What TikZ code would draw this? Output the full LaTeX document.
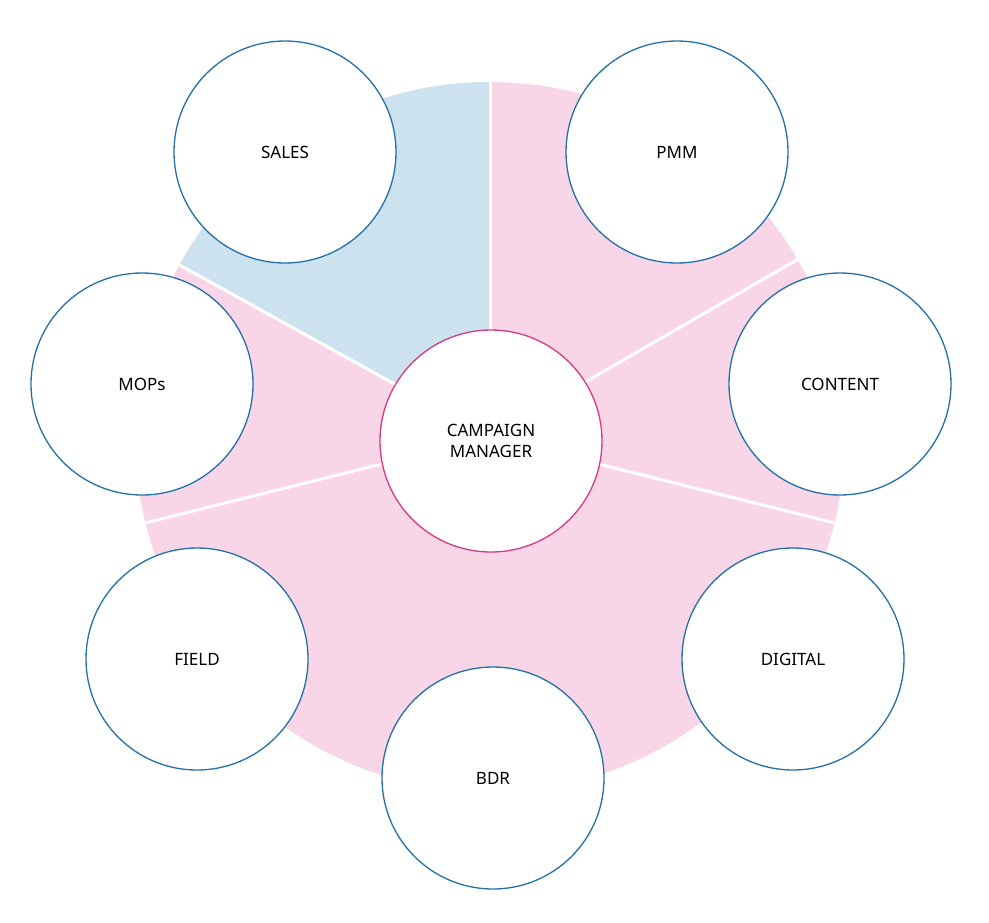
\documentclass[tikz,border=0pt]{standalone}
\usepackage{fontspec}
\setmainfont{Noto Sans}
\begin{document}
\begin{tikzpicture}[x=1pt,y=-1pt,
  sat/.style={circle,draw=cblue,line width=1.3pt,fill=white,minimum size=222pt,inner sep=0pt,font=\fontsize{17}{21}\selectfont},
  divl/.style={white,line width=3pt}]
\definecolor{cpink}{HTML}{F8D5E7}
\definecolor{cblu}{HTML}{CCE2EE}
\definecolor{cblue}{HTML}{2470A8}
\definecolor{cmag}{HTML}{D63A86}
\useasboundingbox (0,0) rectangle (989,922);
\coordinate (c) at (490,437);
\fill[cpink] (c) circle (355);
\fill[cblu] (c) -- ++(-90:355) arc[start angle=-90,end angle=-151,radius=355] -- cycle;
\foreach \a in {-90,-30,14,-194,-151} \draw[divl] (c) -- ++(\a:355);
\node[sat] (sales) at (285,152) {SALES};
\node[sat] (pmm) at (677,152) {PMM};
\node[sat] (mops) at (142,384) {MOPs};
\node[sat] (content) at (840,384) {CONTENT};
\node[sat] (field) at (197,659) {FIELD};
\node[sat] (digital) at (793,659) {DIGITAL};
\node[sat] (bdr) at (493,778) {BDR};
\node[sat,draw=cmag,align=center] (cm) at (491,441) {CAMPAIGN\\MANAGER};
\end{tikzpicture}
\end{document}
